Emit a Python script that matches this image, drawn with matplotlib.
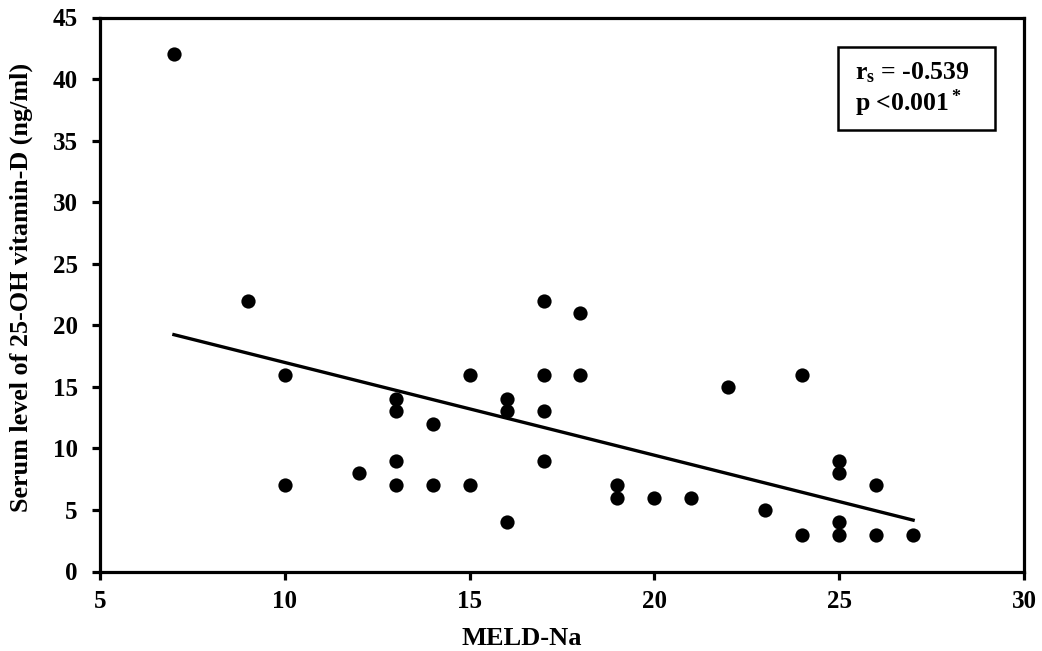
import numpy as np
import matplotlib
matplotlib.use("Agg")
import matplotlib.pyplot as plt
from matplotlib.patches import Rectangle

meld_na = [7, 9, 10, 10, 12, 13, 13, 13, 13, 14, 14, 15, 15, 16, 16, 16,
           17, 17, 17, 17, 18, 18, 19, 19, 20, 21, 22, 23, 24, 24,
           25, 25, 25, 25, 26, 26, 27]
vit_d = [42, 22, 16, 7, 8, 14, 13, 9, 7, 12, 7, 16, 7, 14, 13, 4,
         22, 16, 13, 9, 21, 16, 7, 6, 6, 6, 15, 5, 16, 3,
         9, 8, 4, 3, 7, 3, 3]
x_ticks = [5, 10, 15, 20, 25, 30]
y_ticks = [0, 5, 10, 15, 20, 25, 30, 35, 40, 45]

plt.rcParams['font.family'] = ['Liberation Serif', 'DejaVu Serif']
plt.rcParams['font.weight'] = 'bold'
plt.rcParams['mathtext.fontset'] = 'custom'
plt.rcParams['mathtext.rm'] = 'Liberation Serif:bold'
plt.rcParams['mathtext.bf'] = 'Liberation Serif:bold'
plt.rcParams['mathtext.it'] = 'Liberation Serif:bold'

fig = plt.figure(figsize=(10.42, 6.51), dpi=100)
ax = fig.add_axes([100/1042, 1 - 571.5/651, 924/1042, 554/651])

ax.scatter(meld_na, vit_d, s=105, color='black', zorder=3, linewidths=0)

x = np.array(meld_na, dtype=float)
y = np.array(vit_d, dtype=float)
slope, intercept = np.polyfit(x, y, 1)
xl = np.array([x.min(), x.max()])
ax.plot(xl, intercept + slope * xl, color='black', lw=2.4, zorder=2)

ax.set_xlim(5, 30)
ax.set_ylim(0, 45)
ax.set_xticks(x_ticks)
ax.set_yticks(y_ticks)
ax.tick_params(direction='out', length=6, width=2.3, labelsize=18)
ax.tick_params(axis='x', pad=7)
ax.tick_params(axis='y', pad=10)
for lab in ax.get_xticklabels() + ax.get_yticklabels():
    lab.set_fontweight('bold')
for sp in ax.spines.values():
    sp.set_linewidth(2.3)

ax.set_xlabel('MELD-Na', fontsize=19, fontweight='bold')
ax.xaxis.set_label_coords(0.4567, -0.1, transform=ax.transAxes)
ax.xaxis.label.set_va('top')
ax.set_ylabel('Serum level of 25-OH vitamin-D (ng/ml)', fontsize=18.8,
              fontweight='bold')
ax.yaxis.set_label_coords(-0.0725, 0.5126, transform=ax.transAxes)

ax.add_patch(Rectangle((0.7987, 0.797), 0.1699, 0.1498, transform=ax.transAxes,
                       facecolor='white', edgecolor='black', linewidth=1.8,
                       zorder=4))
ax.text(0.817, 0.8998, r'r$_\mathrm{s}$ = -0.539', transform=ax.transAxes,
        fontsize=18.5, fontweight='bold', va='center', ha='left', zorder=5)
ax.text(0.817, 0.8457, r'p <0.001$^*$', transform=ax.transAxes,
        fontsize=18.5, fontweight='bold', va='center', ha='left', zorder=5)

fig.savefig('out.png', dpi=100)
